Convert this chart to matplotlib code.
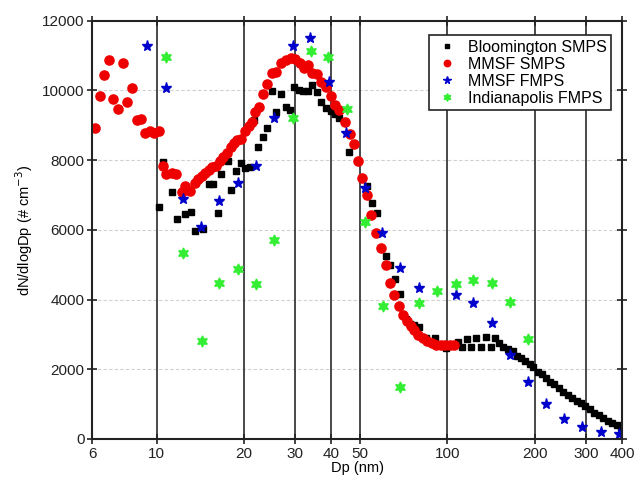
import matplotlib
matplotlib.use('Agg')
import matplotlib.pyplot as plt
from matplotlib.ticker import FixedLocator, FixedFormatter, NullLocator

plt.rcParams['font.family'] = ['Liberation Sans', 'DejaVu Sans']

# Bloomington SMPS
bloom_dp = [10.2, 10.5, 11.3, 11.8, 12.5, 13.1, 13.6, 14.5, 15.1, 15.7, 16.3, 16.7, 17.6, 18.0,
            18.7, 19.5, 20.2, 20.9, 21.7, 22.4, 23.2, 24.0, 24.9, 25.8, 26.9, 27.8, 28.9, 29.8,
            30.9, 31.9, 33.2, 34.4, 35.7, 36.9, 38.3, 39.7, 41.2, 42.6, 46.0, 53.0, 55.2, 57.4,
            61.4, 63.7, 66.0, 68.6, 72.0, 74.3, 77.2, 79.9, 84.8, 90.6, 98.8, 108.9, 112.8, 117,
            121, 126, 131, 136, 141, 146, 151, 156, 162, 168, 174, 180, 186, 193, 198, 205, 212,
            219, 226, 234, 242, 251, 260, 269, 279, 289, 299, 310, 321, 332, 345, 357, 369, 383, 396]
bloom_n = [6650, 7960, 7080, 6310, 6460, 6520, 5970, 6020, 7320, 7320, 6480, 7600, 7980, 7140,
           7700, 7930, 7770, 7790, 9140, 8390, 8670, 8910, 9990, 9380, 9910, 9530, 9440, 10110,
           10010, 9990, 9990, 10160, 9960, 9680, 9490, 9420, 9320, 9200, 8240, 7260, 6760, 6490,
           5250, 4990, 4580, 4150, 3430, 3310, 3270, 3220, 2910, 2910, 2600, 2790, 2650, 2860,
           2650, 2890, 2650, 2930, 2650, 2890, 2750, 2650, 2580, 2530, 2380, 2320, 2250, 2150,
           2060, 1930, 1860, 1740, 1640, 1580, 1450, 1360, 1260, 1170, 1100, 1040, 950, 850,
           750, 690, 590, 530, 450, 400, 340]

# MMSF SMPS
mmsf_smps_dp = [6.14, 6.39, 6.61, 6.87, 7.10, 7.39, 7.65, 7.91, 8.21, 8.55, 8.84, 9.13, 9.48,
                9.83, 10.2, 10.5, 10.8, 11.3, 11.7, 12.2, 12.5, 13.0, 13.6, 13.9, 14.3, 14.7,
                15.1, 15.5, 16.0, 16.6, 17.0, 17.5, 18.0, 18.5, 18.9, 19.5, 20.2, 20.8, 21.3,
                21.9, 22.5, 23.3, 24.0, 24.9, 25.7, 26.8, 27.8, 29.0, 30.0, 31.1, 32.2, 33.2,
                34.4, 35.7, 36.9, 38.3, 39.7, 41.0, 42.4, 44.4, 46.2, 47.7, 49.3, 51.1, 53.0,
                54.8, 56.9, 59.4, 61.4, 63.6, 65.7, 68.3, 70.6, 72.6, 74.8, 77.1, 79.5, 82.4,
                85.4, 88.5, 91.7, 95.0, 98.4, 102, 105.7]
mmsf_smps_n = [8920, 9840, 10440, 10870, 9750, 9470, 10790, 9670, 10070, 9150, 9180, 8780, 8840,
               8780, 8840, 7830, 7600, 7620, 7600, 7100, 7270, 7120, 7350, 7450, 7550, 7640,
               7720, 7800, 7830, 7980, 8100, 8210, 8390, 8500, 8580, 8600, 8850, 8980, 9100,
               9390, 9530, 9900, 10180, 10510, 10540, 10780, 10870, 10920, 10900, 10780, 10630,
               10730, 10510, 10470, 10250, 10090, 9840, 9580, 9440, 9100, 8750, 8460, 7980, 7480,
               7000, 6430, 5910, 5470, 4990, 4480, 4130, 3820, 3550, 3390, 3240, 3130, 2980, 2890,
               2800, 2740, 2710, 2700, 2700, 2700, 2710]

# MMSF FMPS
mmsf_fmps_dp = [9.28, 10.8, 12.3, 14.2, 16.4, 19.1, 22.0, 25.3, 29.4, 33.7, 39.2, 45.0, 52.0,
                59.9, 69.1, 79.9, 107, 123, 143, 164, 190, 219, 253, 291, 337, 391]
mmsf_fmps_n = [11280, 10060, 6880, 6090, 6830, 7350, 7830, 9200, 11270, 11500, 10250, 8790, 7190,
               5920, 4900, 4320, 4130, 3890, 3340, 2410, 1640, 1000, 570, 350, 210, 140]

# Indianapolis FMPS
indy_dp = [10.8, 12.3, 14.3, 16.4, 19.0, 22.0, 25.4, 29.4, 33.9, 38.9, 45.3, 52.0, 60.1, 69.1,
           79.9, 92.2, 107, 123, 143, 165, 190]
indy_n = [10970, 5330, 2820, 4480, 4870, 4450, 5710, 9200, 11140, 10970, 9460, 6220, 3820, 1500,
          3890, 4250, 4450, 4560, 4470, 3940, 2860]

xticks = [6, 10, 20, 30, 40, 50, 100, 200, 300, 400]
vlines = [10, 20, 30, 40, 50, 100, 200, 300]

fig = plt.figure(figsize=(6.36, 4.83), dpi=100)
ax = fig.add_axes([0.1447, 0.0911, 0.8335, 0.866])

for y in range(2000, 12000, 2000):
    ax.axhline(y, color='#d0d0d0', lw=0.8, ls=(0, (3, 2)), zorder=0)
for x in vlines:
    ax.axvline(x, color='#2a2a2a', lw=1.2, zorder=0)

ax.plot(bloom_dp, bloom_n, 's', color='black', ms=4.6, ls='none', label='Bloomington SMPS')
ax.plot(mmsf_smps_dp, mmsf_smps_n, 'o', color='#ee0000', ms=6.6, ls='none', label='MMSF SMPS')
ax.plot(mmsf_fmps_dp, mmsf_fmps_n, '*', color='#0000cc', ms=8, ls='none', label='MMSF FMPS')
ax.plot(indy_dp, indy_n, marker=(6, 1, 0), color='#33ee33', ms=8, ls='none',
        label='Indianapolis FMPS')

ax.set_xscale('log')
ax.set_xlim(6, 400)
ax.set_ylim(0, 12000)
ax.xaxis.set_major_locator(FixedLocator(xticks))
ax.xaxis.set_major_formatter(FixedFormatter([str(t) for t in xticks]))
ax.xaxis.set_minor_locator(NullLocator())
ax.set_yticks(range(0, 12001, 2000))

ax.tick_params(axis='both', which='major', direction='inout', length=7, width=1.2,
               top=True, right=True, labelsize=11, colors='#222222', pad=2)
for side in ['top', 'bottom', 'left', 'right']:
    ax.spines[side].set_linewidth(1.5)
    ax.spines[side].set_color('#222222')

ax.set_xlabel('Dp (nm)', fontsize=10.5, labelpad=0)
ax.set_ylabel('dN/dlogDp (# cm$^{-3}$)', fontsize=10.5, labelpad=5)

leg = ax.legend(loc='upper right', fontsize=11.5, frameon=True, fancybox=False,
                markerscale=0.7, handletextpad=0.5, borderpad=0.3, labelspacing=0.12,
                handlelength=1.6, bbox_to_anchor=(0.995, 0.985))
leg.get_frame().set_edgecolor('#222222')
leg.get_frame().set_linewidth(1.2)
leg.get_frame().set_alpha(1)

fig.savefig('out.png', dpi=100)
